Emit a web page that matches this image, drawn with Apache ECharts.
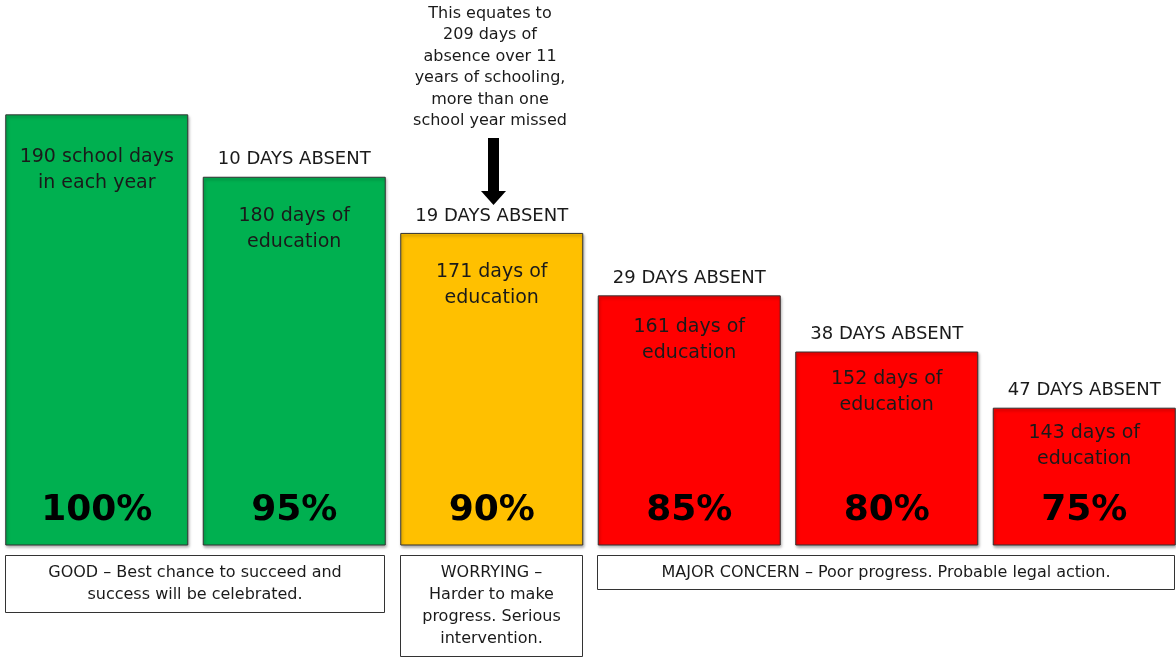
<!DOCTYPE html>
<html>
<head>
<meta charset="utf-8">
<script src="https://cdn.jsdelivr.net/npm/echarts@6/dist/echarts.min.js"></script>
<style>
	html, body { margin: 0; padding: 0; background: #fff; overflow: hidden; }
	#chart { width: 1185px; height: 659px; margin-left: -2px; }
</style>
</head>
<body>
<div id="chart"></div>
<script>
// days of education in each case
const categories = ['100%', '95%', '90%', '85%', '80%', '75%'];
const educationDays = [190, 180, 171, 161, 152, 143];
const absentDays = [0, 10, 19, 29, 38, 47];
const attendance = [100, 95, 90, 85, 80, 75];
const barColors = ['#00B050', '#00B050', '#FFC000', '#FF0000', '#FF0000', '#FF0000'];

const FONT = 'DejaVu Sans';
const DX = 2; // chart div is shifted 2px left of the page
// the text inside the shorter bars sits a bit closer to the top
const textDistance = [30, 26, 26, 19, 15, 12];
const myChart = echarts.init(document.getElementById('chart'));

const topText = (i) => i === 0
	? educationDays[i] + ' school days\nin each year'
	: educationDays[i] + ' days of\neducation';

const option = {
	animation: false,
	grid: { left: 0, right: 0, top: 2, bottom: 114 },
	xAxis: {
		type: 'category',
		data: categories,
		show: false
	},
	yAxis: {
		type: 'value',
		min: 121,
		max: 208,
		show: false
	},
	series: [
		{
			// the coloured bars
			type: 'bar',
			barWidth: 183,
			barGap: '-100%',
			data: educationDays.map((v, i) => ({
				value: v,
				itemStyle: { color: barColors[i] },
				label: { distance: textDistance[i] }
			})),
			itemStyle: {
				borderColor: '#333',
				borderWidth: 1,
				shadowBlur: 3,
				shadowColor: 'rgba(0,0,0,0.35)',
				shadowOffsetX: 1,
				shadowOffsetY: 2
			},
			label: {
				show: true,
				position: 'insideTop',
				formatter: (p) => topText(p.dataIndex),
				fontFamily: FONT,
				fontSize: 19,
				lineHeight: 26,
				color: '#1a1a1a'
			}
		},
		{
			// percentage at the foot of each bar
			type: 'bar',
			barWidth: 183,
			barGap: '-100%',
			silent: true,
			data: educationDays,
			itemStyle: { color: 'transparent' },
			label: {
				show: true,
				position: 'insideBottom',
				distance: 16,
				formatter: (p) => attendance[p.dataIndex] + '%',
				fontFamily: FONT,
				fontWeight: 'bold',
				fontSize: 36,
				color: '#000'
			}
		},
		{
			// days absent above each bar
			type: 'bar',
			barWidth: 183,
			barGap: '-100%',
			silent: true,
			data: educationDays,
			itemStyle: { color: 'transparent' },
			label: {
				show: true,
				position: 'top',
				distance: 8,
				formatter: (p) => absentDays[p.dataIndex] ? absentDays[p.dataIndex] + ' DAYS ABSENT' : '',
				fontFamily: FONT,
				fontSize: 18,
				color: '#1a1a1a'
			}
		}
	],
	graphic: [
		{
			type: 'text',
			x: 490 + DX,
			y: 3,
			style: {
				text: 'This equates to\n209 days of\nabsence over 11\nyears of schooling,\nmore than one\nschool year missed',
				align: 'center',
				verticalAlign: 'top',
				fontFamily: FONT,
				fontSize: 16,
				lineHeight: 21.5,
				fill: '#1a1a1a'
			}
		},
		// arrow
		{ type: 'rect', shape: { x: 488 + DX, y: 138, width: 11, height: 54 }, style: { fill: '#000' } },
		{ type: 'polygon', shape: { points: [[481 + DX, 191], [506 + DX, 191], [493.5 + DX, 205]] }, style: { fill: '#000' } },
		// bottom boxes
		{
			type: 'rect',
			shape: { x: 5.5 + DX, y: 555.5, width: 379, height: 57 },
			style: { fill: '#fff', stroke: '#333', lineWidth: 1 }
		},
		{
			type: 'text',
			x: 195 + DX, y: 584,
			style: {
				text: 'GOOD – Best chance to succeed and\nsuccess will be celebrated.',
				align: 'center', verticalAlign: 'middle',
				fontFamily: FONT, fontSize: 16, lineHeight: 22, fill: '#1a1a1a'
			}
		},
		{
			type: 'rect',
			shape: { x: 400.5 + DX, y: 555.5, width: 182, height: 101 },
			style: { fill: '#fff', stroke: '#333', lineWidth: 1 }
		},
		{
			type: 'text',
			x: 491.5 + DX, y: 606,
			style: {
				text: 'WORRYING –\nHarder to make\nprogress. Serious\nintervention.',
				align: 'center', verticalAlign: 'middle',
				fontFamily: FONT, fontSize: 16, lineHeight: 22, fill: '#1a1a1a'
			}
		},
		{
			type: 'rect',
			shape: { x: 597.5 + DX, y: 555.5, width: 577, height: 34 },
			style: { fill: '#fff', stroke: '#333', lineWidth: 1 }
		},
		{
			type: 'text',
			x: 886 + DX, y: 573,
			style: {
				text: 'MAJOR CONCERN – Poor progress. Probable legal action.',
				align: 'center', verticalAlign: 'middle',
				fontFamily: FONT, fontSize: 16, fill: '#1a1a1a'
			}
		}
	]
};

myChart.setOption(option);
</script>
</body>
</html>
